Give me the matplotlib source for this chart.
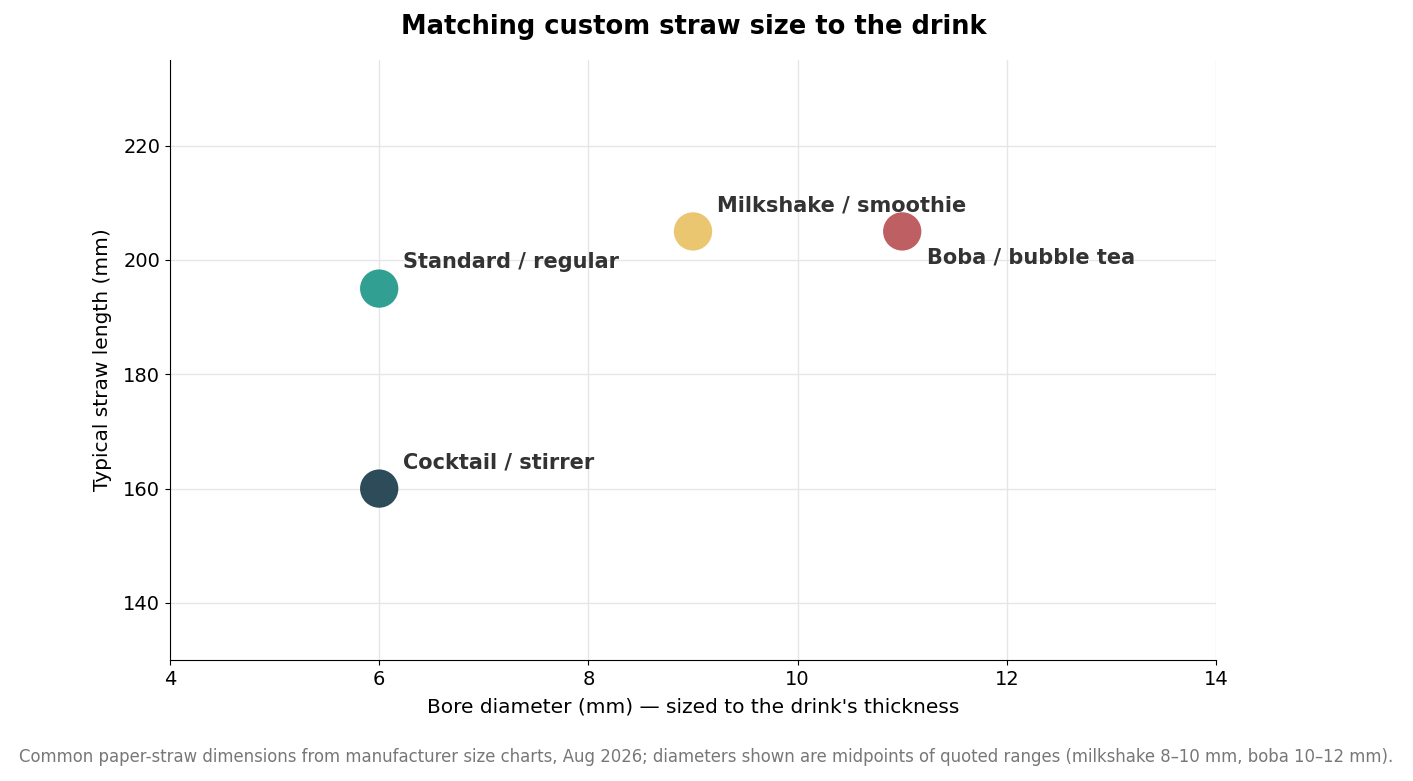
import matplotlib
matplotlib.use("Agg")
import matplotlib.pyplot as plt

names = ["Standard / regular", "Milkshake / smoothie", "Boba / bubble tea", "Cocktail / stirrer"]
diam = [6, 9, 11, 6]
length = [195, 205, 205, 160]
colors = ["#2a9d8f", "#e9c46a", "#bc5a5e", "#264653"]
offsets = [(17, 19), (17, 19), (18, -19), (17, 19)]

fig = plt.figure(figsize=(14.13, 7.81), dpi=100)
ax = fig.add_axes([0.1203, 0.1549, 0.7403, 0.7683])
ax.scatter(diam, length, s=760, c=colors, alpha=0.97, edgecolors="none", zorder=3)
for n, x, y, o in zip(names, diam, length, offsets):
    ax.annotate(n, (x, y), xytext=o, textcoords="offset points", ha="left", va="center",
                fontsize=15, fontweight="bold", color="#333333")
ax.set_xlim(4, 14)
ax.set_ylim(130, 235)
ax.set_xticks([4, 6, 8, 10, 12, 14])
ax.set_yticks([140, 160, 180, 200, 220])
ax.grid(True, color="#e6e6e6", linewidth=1)
ax.set_axisbelow(True)
for s in ["top", "right"]:
    ax.spines[s].set_visible(False)
ax.tick_params(labelsize=14)
ax.set_xlabel("Bore diameter (mm) — sized to the drink's thickness", fontsize=14.5, labelpad=6)
ax.set_ylabel("Typical straw length (mm)", fontsize=14.5, labelpad=8)
fig.text(0.491, 0.965, "Matching custom straw size to the drink", ha="center", va="center",
         fontsize=18.5, fontweight="bold")
fig.text(0.5, 0.031, "Common paper-straw dimensions from manufacturer size charts, Aug 2026; diameters shown are midpoints of quoted ranges (milkshake 8–10 mm, boba 10–12 mm).",
         ha="center", va="center", fontsize=11.9, color="#777777")
fig.savefig("out.png", dpi=100)
